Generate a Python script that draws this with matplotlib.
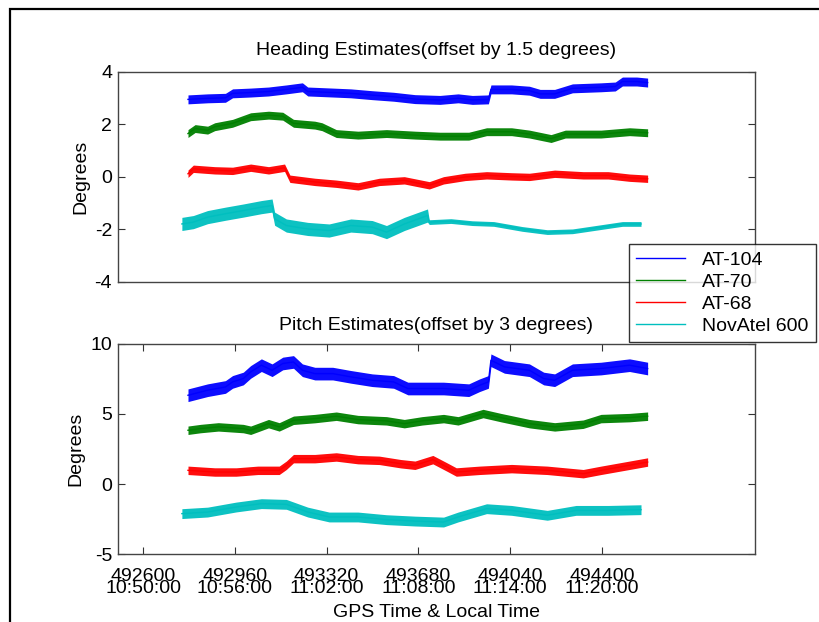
import numpy as np
import matplotlib
matplotlib.use('Agg')
import matplotlib.pyplot as plt
from matplotlib.patches import Rectangle

plt.rcParams['font.family'] = ['Liberation Sans', 'DejaVu Sans']
plt.rcParams['axes.unicode_minus'] = False

# GPS seconds of week / local time for the shared x axis
tick_gps = [492600, 492960, 493320, 493680, 494040, 494400]
tick_local = ['10:50:00', '10:56:00', '11:02:00', '11:08:00', '11:14:00', '11:20:00']

labels = ['AT-104', 'AT-70', 'AT-68', 'NovAtel 600']
colors = ['#0000ff', '#008000', '#ff0000', '#00bfbf']

# --- Heading (offset by 1.5 deg) ---
hdg_t_104 = [492776, 492853, 492923, 492951, 493022, 493092, 493162, 493225, 493246, 493344,
             493415, 493499, 493583, 493667, 493765, 493836, 493892, 493955, 493965, 494046,
             494116, 494158, 494215, 494285, 494397, 494453, 494481, 494537, 494580]
hdg_104 = [2.94, 2.98, 3.0, 3.17, 3.2, 3.24, 3.32, 3.4, 3.24, 3.2,
           3.17, 3.1, 3.04, 2.95, 2.92, 2.98, 2.92, 2.94, 3.32, 3.32,
           3.27, 3.15, 3.15, 3.36, 3.4, 3.43, 3.62, 3.62, 3.58]

hdg_t_70 = [492776, 492804, 492853, 492881, 492951, 493022, 493092, 493148, 493190, 493274,
            493302, 493358, 493443, 493555, 493667, 493765, 493878, 493948, 494046, 494116,
            494201, 494257, 494397, 494509, 494580]
hdg_70 = [1.64, 1.83, 1.77, 1.9, 2.03, 2.28, 2.34, 2.3, 2.03, 1.96,
          1.9, 1.64, 1.58, 1.64, 1.58, 1.54, 1.54, 1.71, 1.71, 1.62,
          1.45, 1.62, 1.62, 1.71, 1.67]

hdg_t_68 = [492776, 492797, 492881, 492951, 493022, 493092, 493155, 493176, 493274, 493358,
            493443, 493527, 493625, 493723, 493779, 493864, 493948, 494046, 494116, 494215,
            494327, 494425, 494509, 494580]
hdg_68 = [0.11, 0.3, 0.24, 0.22, 0.34, 0.24, 0.34, -0.08, -0.2, -0.27,
          -0.37, -0.2, -0.14, -0.33, -0.14, -0.01, 0.05, 0.01, -0.01, 0.11,
          0.05, 0.05, -0.04, -0.08]

hdg_t_nov = [492752, 492797, 492853, 492923, 492993, 493064, 493106, 493116, 493162, 493246,
             493330, 493415, 493499, 493555, 493625, 493716, 493723, 493808, 493892, 493976,
             494088, 494186, 494285, 494397, 494481, 494554]
hdg_nov = [-1.8, -1.73, -1.54, -1.41, -1.29, -1.16, -1.1, -1.6, -1.86, -1.99,
           -2.05, -1.86, -1.92, -2.11, -1.8, -1.48, -1.73, -1.69, -1.77, -1.8,
           -1.99, -2.11, -2.08, -1.92, -1.8, -1.8]
# noise half-width of the NovAtel heading trace (much noisier before 11:08)
hdg_nov_spread = [0.25, 0.25, 0.25, 0.25, 0.25, 0.25, 0.25, 0.25, 0.25, 0.25,
                  0.25, 0.25, 0.25, 0.25, 0.25, 0.25, 0.09, 0.09, 0.09, 0.09,
                  0.09, 0.09, 0.09, 0.09, 0.09, 0.09]

# --- Pitch (offset by 3 deg) ---
pit_t_104 = [492776, 492853, 492923, 492951, 492993, 493022, 493064, 493106, 493148, 493190,
             493225, 493274, 493344, 493415, 493499, 493583, 493639, 493695, 493779, 493878,
             493920, 493955, 493965, 494018, 494116, 494172, 494215, 494285, 494397, 494509,
             494580]
pit_104 = [6.32, 6.68, 6.91, 7.27, 7.51, 7.98, 8.46, 8.1, 8.58, 8.69,
           8.1, 7.86, 7.86, 7.63, 7.39, 7.27, 6.8, 6.8, 6.8, 6.68,
           7.03, 7.27, 8.81, 8.34, 8.1, 7.51, 7.39, 8.1, 8.22, 8.46,
           8.22]

pit_t_70 = [492776, 492825, 492895, 492993, 493022, 493092, 493134, 493190, 493274, 493358,
            493443, 493555, 493625, 493695, 493779, 493836, 493934, 494004, 494116, 494215,
            494327, 494397, 494509, 494580]
pit_70 = [3.83, 3.95, 4.07, 3.95, 3.83, 4.3, 4.07, 4.54, 4.66, 4.83,
          4.59, 4.5, 4.3, 4.5, 4.66, 4.5, 5.02, 4.73, 4.3, 4.07,
          4.26, 4.66, 4.73, 4.83]

pit_t_68 = [492776, 492881, 492965, 493050, 493134, 493162, 493190, 493274, 493358, 493443,
            493527, 493611, 493667, 493737, 493793, 493829, 493920, 494046, 494186, 494327,
            494397, 494509, 494580]
pit_68 = [0.98, 0.86, 0.86, 0.98, 0.98, 1.34, 1.81, 1.81, 1.93, 1.74,
          1.69, 1.45, 1.34, 1.74, 1.21, 0.86, 0.98, 1.1, 0.98, 0.74,
          0.98, 1.34, 1.57]

pit_t_nov = [492752, 492853, 492965, 493064, 493162, 493246, 493330, 493443, 493555, 493667,
             493779, 493836, 493948, 494046, 494186, 494299, 494425, 494554]
pit_nov = [-2.1, -1.99, -1.63, -1.39, -1.44, -1.99, -2.34, -2.34, -2.53, -2.63,
           -2.7, -2.34, -1.75, -1.87, -2.22, -1.87, -1.87, -1.82]

# typical noise half-width of each trace
hdg_spread = [0.17, 0.15, 0.14]
pit_spread = [0.45, 0.3, 0.3, 0.35]

fig = plt.figure(figsize=(8.2, 6.22), dpi=100)
fig.patches.append(Rectangle((10 / 820, -0.1), 1.2, 1 - 9 / 622 + 0.1, transform=fig.transFigure,
                             fill=False, edgecolor='black', linewidth=1.6, zorder=0))

ax1 = fig.add_axes([0.1435, 0.547, 0.7768, 0.338])
ax2 = fig.add_axes([0.1435, 0.1087, 0.7768, 0.339])


def draw_trace(ax, t, y, spread, color, label=None):
    t = np.array(t)
    y = np.array(y)
    s = np.array(spread) * np.ones(len(y))
    ax.fill_between(t, y - s, y + s, color=color, linewidth=0, alpha=0.95)
    ax.plot(t, y, color=color, linewidth=1, label=label)


heading = [(hdg_t_104, hdg_104, hdg_spread[0]), (hdg_t_70, hdg_70, hdg_spread[1]),
           (hdg_t_68, hdg_68, hdg_spread[2]), (hdg_t_nov, hdg_nov, hdg_nov_spread)]
pitch = [(pit_t_104, pit_104, pit_spread[0]), (pit_t_70, pit_70, pit_spread[1]),
         (pit_t_68, pit_68, pit_spread[2]), (pit_t_nov, pit_nov, pit_spread[3])]

for i, (t, y, s) in enumerate(heading):
    draw_trace(ax1, t, y, s, colors[i], labels[i])
for i, (t, y, s) in enumerate(pitch):
    draw_trace(ax2, t, y, s, colors[i])

fs = 14
for ax in (ax1, ax2):
    ax.set_xlim(492500, 495000)
    ax.tick_params(direction='in', length=5, width=0.8, top=True, right=True,
                   labelsize=fs, pad=4, color='#333333')
    for sp in ax.spines.values():
        sp.set_color('#444444')
        sp.set_linewidth(1)
    ax.set_ylabel('Degrees', fontsize=fs, labelpad=4)

ax1.set_ylim(-4, 4)
ax1.set_yticks([-4, -2, 0, 2, 4])
ax1.set_xticks([])
ax1.set_title('Heading Estimates(offset by 1.5 degrees)', fontsize=fs, pad=12)

ax2.set_ylim(-5, 10)
ax2.set_yticks([-5, 0, 5, 10])
ax2.set_xticks(tick_gps)
ax2.set_xticklabels([f'{g}\n{l}' for g, l in zip(tick_gps, tick_local)], linespacing=0.6)
ax2.tick_params(axis='x', pad=10)
ax2.set_title('Pitch Estimates(offset by 3 degrees)', fontsize=fs, pad=10)
ax2.set_xlabel('GPS Time & Local Time', fontsize=fs, labelpad=5)

leg = fig.legend(loc='upper left', bbox_to_anchor=(0.7667, 0.6077), borderaxespad=0,
                 fontsize=fs, frameon=True, fancybox=False, handlelength=2.5,
                 handletextpad=0.9, labelspacing=0.22, borderpad=0.38)
leg.get_frame().set_edgecolor('black')
leg.get_frame().set_linewidth(1)
leg.set_zorder(10)

fig.savefig('out.png', dpi=100)
